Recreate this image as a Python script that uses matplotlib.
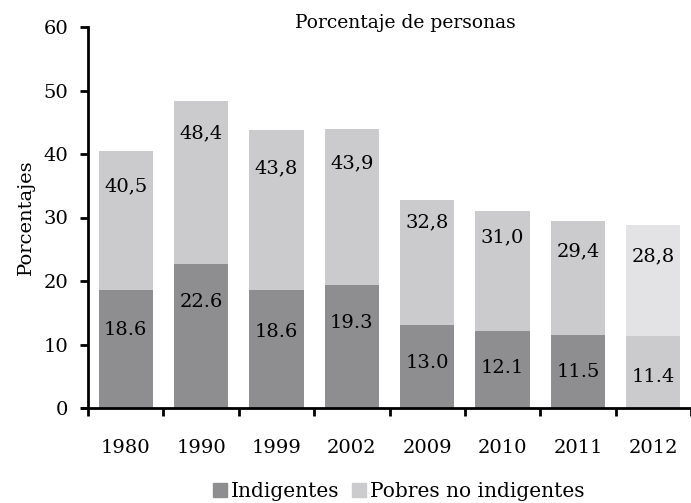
import numpy as np
import matplotlib
matplotlib.use("Agg")
import matplotlib.pyplot as plt
from matplotlib.patches import Patch

# dane
anios = ["1980", "1990", "1999", "2002", "2009", "2010", "2011", "2012"]
indigentes = [18.6, 22.6, 18.6, 19.3, 13.0, 12.1, 11.5, 11.4]
pobres_total = [40.5, 48.4, 43.8, 43.9, 32.8, 31.0, 29.4, 28.8]
etiq_indig = ["18.6", "22.6", "18.6", "19.3", "13.0", "12.1", "11.5", "11.4"]
etiq_total = ["40,5", "48,4", "43,8", "43,9", "32,8", "31,0", "29,4", "28,8"]

# pozycje etykiet (w jednostkach osi y)
y_etiq_indig = [12.3, 16.7, 12.0, 13.4, 7.1, 6.3, 5.7, 4.9]
y_etiq_total = [34.9, 43.3, 37.8, 38.6, 29.3, 26.8, 24.6, 23.9]

pobres_no_indig = [t - i for t, i in zip(pobres_total, indigentes)]

c_ind = "#8e8e90"
c_pob = "#cbcbcd"
c_ind_12 = "#cbcbcd"
c_pob_12 = "#e3e3e5"

plt.rcParams["font.family"] = "DejaVu Serif"

fig = plt.figure(figsize=(6.91, 5.03), dpi=100)
ax = fig.add_axes([82 / 691, 95 / 503, (691 - 82) / 691, 381 / 503])

x = np.arange(len(anios))
col_ind = [c_ind] * 7 + [c_ind_12]
col_pob = [c_pob] * 7 + [c_pob_12]
ax.bar(x, indigentes, width=0.72, color=col_ind, edgecolor="none")
ax.bar(x, pobres_no_indig, bottom=indigentes, width=0.72, color=col_pob, edgecolor="none")

for i in range(len(anios)):
    ax.text(x[i], y_etiq_indig[i], etiq_indig[i], ha="center", va="center", fontsize=14)
    ax.text(x[i], y_etiq_total[i], etiq_total[i], ha="center", va="center", fontsize=14)

ax.set_ylim(0, 60)
ax.set_xlim(-0.58, -0.5 + (691 - 88) / 75.7)
ax.set_yticks(range(0, 61, 10))
ax.set_xticks(x)
ax.set_xticklabels(anios)
ax.set_xticks(np.arange(-0.5, 8, 1), minor=True)
ax.tick_params(axis="x", which="major", length=0, pad=22, labelsize=14)
ax.tick_params(axis="x", which="minor", length=6, width=2, direction="out")
ax.tick_params(axis="y", length=6, width=2, direction="out", pad=8, labelsize=14)

for s in ["top", "right"]:
    ax.spines[s].set_visible(False)
ax.spines["left"].set_position(("data", -0.5))
ax.spines["left"].set_linewidth(2)
ax.spines["bottom"].set_linewidth(2)

ax.set_ylabel("Porcentajes", fontsize=14, labelpad=6)
fig.text(0.586, 1 - 23 / 503, "Porcentaje de personas", ha="center", va="center", fontsize=13.5)

handles = [Patch(color=c_ind, label="Indigentes"), Patch(color=c_pob, label="Pobres no indigentes")]
fig.legend(handles=handles, loc="center", bbox_to_anchor=(0.577, 0.022), ncol=2, frameon=False,
           fontsize=14.5, handlelength=0.7, handleheight=0.7, handletextpad=0.2, columnspacing=0.6,
           borderpad=0)

fig.savefig("out.png", dpi=100)
